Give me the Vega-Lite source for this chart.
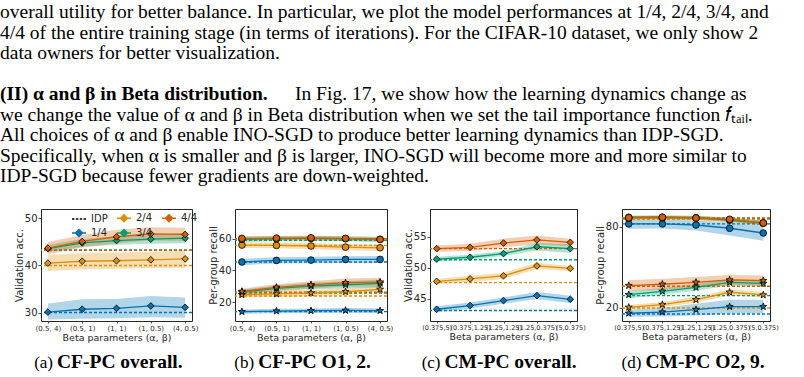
{
  "$schema": "https://vega.github.io/schema/vega-lite/v6.json",
  "padding": 0,
  "spacing": 18,
  "config": {
    "font": "DejaVu Sans",
    "view": {"stroke": "#262626", "strokeWidth": 1},
    "axis": {
      "grid": false, "domain": false, "tickColor": "#262626", "tickSize": 3, "tickWidth": 0.8,
      "labelColor": "#262626", "labelFont": "DejaVu Sans", "labelFontSize": 10, "labelPadding": 1,
      "titleFont": "DejaVu Sans", "titleFontSize": 10, "titleFontWeight": "normal", "titleColor": "#262626", "titlePadding": 0
    },
    "axisX": {"labelFontSize": 7, "labelAngle": 0, "labelOverlap": false, "labelBound": false, "tickSize": 2, "labelPadding": 1, "titlePadding": 1, "titleFontSize": 9.5},
    "legend": {
      "orient": "none", "title": null, "symbolSize": 196, "symbolStrokeWidth": 1.5,
      "labelFont": "DejaVu Sans", "labelFontSize": 10, "labelColor": "#262626", "labelOffset": 4,
      "rowPadding": 0, "padding": 0
    }
  },
  "datasets": {
    "cfpc_overall": [
      {"beta": "(0.5, 4)", "stage": "1/4", "v": 30.1, "lo": 28.5, "hi": 31.9},
      {"beta": "(0.5, 1)", "stage": "1/4", "v": 30.7, "lo": 28.7, "hi": 32.8},
      {"beta": "(1, 1)", "stage": "1/4", "v": 30.9, "lo": 28.8, "hi": 32.9},
      {"beta": "(1, 0.5)", "stage": "1/4", "v": 31.4, "lo": 29.0, "hi": 33.5},
      {"beta": "(4, 0.5)", "stage": "1/4", "v": 31.1, "lo": 28.9, "hi": 33.2},
      {"beta": "(0.5, 4)", "stage": "2/4", "v": 40.5, "lo": 38.8, "hi": 42.2},
      {"beta": "(0.5, 1)", "stage": "2/4", "v": 40.9, "lo": 39.2, "hi": 42.6},
      {"beta": "(1, 1)", "stage": "2/4", "v": 41.0, "lo": 39.3, "hi": 42.7},
      {"beta": "(1, 0.5)", "stage": "2/4", "v": 41.2, "lo": 39.4, "hi": 42.9},
      {"beta": "(4, 0.5)", "stage": "2/4", "v": 41.4, "lo": 39.5, "hi": 43.2},
      {"beta": "(0.5, 4)", "stage": "3/4", "v": 43.6, "lo": 42.8, "hi": 44.4},
      {"beta": "(0.5, 1)", "stage": "3/4", "v": 44.8, "lo": 44.0, "hi": 45.6},
      {"beta": "(1, 1)", "stage": "3/4", "v": 45.3, "lo": 44.4, "hi": 46.2},
      {"beta": "(1, 0.5)", "stage": "3/4", "v": 45.6, "lo": 44.6, "hi": 46.6},
      {"beta": "(4, 0.5)", "stage": "3/4", "v": 45.8, "lo": 44.7, "hi": 46.9},
      {"beta": "(0.5, 4)", "stage": "4/4", "v": 43.7, "lo": 42.4, "hi": 45.0},
      {"beta": "(0.5, 1)", "stage": "4/4", "v": 45.1, "lo": 43.8, "hi": 46.5},
      {"beta": "(1, 1)", "stage": "4/4", "v": 46.1, "lo": 44.7, "hi": 47.6},
      {"beta": "(1, 0.5)", "stage": "4/4", "v": 46.7, "lo": 45.3, "hi": 48.1},
      {"beta": "(4, 0.5)", "stage": "4/4", "v": 46.6, "lo": 45.2, "hi": 48.0}
    ],
    "cfpc_overall_idp": [
      {"stage": "1/4", "idp": 30.0}, {"stage": "2/4", "idp": 40.0},
      {"stage": "3/4", "idp": 43.3}, {"stage": "4/4", "idp": 43.2}
    ],
    "cfpc_owner1": [
      {"beta": "(0.5, 4)", "stage": "1/4", "v": 13.9, "lo": 12.6, "hi": 15.2},
      {"beta": "(0.5, 1)", "stage": "1/4", "v": 14.3, "lo": 12.9, "hi": 15.7},
      {"beta": "(1, 1)", "stage": "1/4", "v": 14.5, "lo": 13.1, "hi": 15.9},
      {"beta": "(1, 0.5)", "stage": "1/4", "v": 14.7, "lo": 13.2, "hi": 16.2},
      {"beta": "(4, 0.5)", "stage": "1/4", "v": 14.5, "lo": 13.0, "hi": 16.0},
      {"beta": "(0.5, 4)", "stage": "2/4", "v": 24.6, "lo": 22.8, "hi": 26.4},
      {"beta": "(0.5, 1)", "stage": "2/4", "v": 25.1, "lo": 23.2, "hi": 27.0},
      {"beta": "(1, 1)", "stage": "2/4", "v": 25.7, "lo": 23.7, "hi": 27.7},
      {"beta": "(1, 0.5)", "stage": "2/4", "v": 26.5, "lo": 24.4, "hi": 28.6},
      {"beta": "(4, 0.5)", "stage": "2/4", "v": 28.0, "lo": 25.8, "hi": 30.2},
      {"beta": "(0.5, 4)", "stage": "3/4", "v": 26.3, "lo": 24.8, "hi": 27.8},
      {"beta": "(0.5, 1)", "stage": "3/4", "v": 28.6, "lo": 26.8, "hi": 30.4},
      {"beta": "(1, 1)", "stage": "3/4", "v": 30.1, "lo": 28.0, "hi": 32.2},
      {"beta": "(1, 0.5)", "stage": "3/4", "v": 30.9, "lo": 28.6, "hi": 33.2},
      {"beta": "(4, 0.5)", "stage": "3/4", "v": 31.8, "lo": 29.3, "hi": 34.3},
      {"beta": "(0.5, 4)", "stage": "4/4", "v": 26.7, "lo": 25.0, "hi": 28.4},
      {"beta": "(0.5, 1)", "stage": "4/4", "v": 29.3, "lo": 27.3, "hi": 31.3},
      {"beta": "(1, 1)", "stage": "4/4", "v": 30.9, "lo": 28.6, "hi": 33.2},
      {"beta": "(1, 0.5)", "stage": "4/4", "v": 32.2, "lo": 29.6, "hi": 34.8},
      {"beta": "(4, 0.5)", "stage": "4/4", "v": 32.6, "lo": 29.8, "hi": 35.4}
    ],
    "cfpc_owner2": [
      {"beta": "(0.5, 4)", "stage": "1/4", "v": 45.3, "lo": 43.3, "hi": 47.3},
      {"beta": "(0.5, 1)", "stage": "1/4", "v": 46.3, "lo": 44.3, "hi": 48.3},
      {"beta": "(1, 1)", "stage": "1/4", "v": 46.5, "lo": 44.5, "hi": 48.6},
      {"beta": "(1, 0.5)", "stage": "1/4", "v": 46.9, "lo": 44.8, "hi": 49.0},
      {"beta": "(4, 0.5)", "stage": "1/4", "v": 46.9, "lo": 44.7, "hi": 49.1},
      {"beta": "(0.5, 4)", "stage": "2/4", "v": 56.0, "lo": 54.2, "hi": 57.8},
      {"beta": "(0.5, 1)", "stage": "2/4", "v": 55.8, "lo": 54.0, "hi": 57.6},
      {"beta": "(1, 1)", "stage": "2/4", "v": 55.4, "lo": 53.5, "hi": 57.3},
      {"beta": "(1, 0.5)", "stage": "2/4", "v": 54.7, "lo": 52.8, "hi": 56.6},
      {"beta": "(4, 0.5)", "stage": "2/4", "v": 54.3, "lo": 52.3, "hi": 56.3},
      {"beta": "(0.5, 4)", "stage": "3/4", "v": 59.6, "lo": 58.0, "hi": 61.2},
      {"beta": "(0.5, 1)", "stage": "3/4", "v": 60.0, "lo": 58.4, "hi": 61.6},
      {"beta": "(1, 1)", "stage": "3/4", "v": 60.2, "lo": 58.6, "hi": 61.8},
      {"beta": "(1, 0.5)", "stage": "3/4", "v": 60.0, "lo": 58.4, "hi": 61.6},
      {"beta": "(4, 0.5)", "stage": "3/4", "v": 59.6, "lo": 58.0, "hi": 61.2},
      {"beta": "(0.5, 4)", "stage": "4/4", "v": 60.2, "lo": 58.8, "hi": 61.6},
      {"beta": "(0.5, 1)", "stage": "4/4", "v": 60.4, "lo": 59.0, "hi": 61.8},
      {"beta": "(1, 1)", "stage": "4/4", "v": 60.6, "lo": 59.2, "hi": 62.0},
      {"beta": "(1, 0.5)", "stage": "4/4", "v": 60.2, "lo": 58.8, "hi": 61.6},
      {"beta": "(4, 0.5)", "stage": "4/4", "v": 59.6, "lo": 58.2, "hi": 61.0}
    ],
    "cfpc_owner_idp": [
      {"stage": "1/4", "idp": 13.9}, {"stage": "2/4", "idp": 23.8},
      {"stage": "3/4", "idp": 25.6}, {"stage": "4/4", "idp": 26.2},
      {"stage": "1/4", "idp": 45.3}, {"stage": "2/4", "idp": 55.8},
      {"stage": "3/4", "idp": 59.0}, {"stage": "4/4", "idp": 60.0}
    ],
    "cmpc_overall": [
      {"beta": "(0.375,5)", "stage": "1/4", "v": 43.3, "lo": 42.8, "hi": 43.8},
      {"beta": "(0.375,1.25)", "stage": "1/4", "v": 43.9, "lo": 43.4, "hi": 44.4},
      {"beta": "(1.25,1.25)", "stage": "1/4", "v": 44.7, "lo": 44.2, "hi": 45.2},
      {"beta": "(1.25,0.375)", "stage": "1/4", "v": 45.5, "lo": 44.9, "hi": 46.1},
      {"beta": "(5,0.375)", "stage": "1/4", "v": 44.9, "lo": 44.3, "hi": 45.5},
      {"beta": "(0.375,5)", "stage": "2/4", "v": 47.8, "lo": 47.4, "hi": 48.2},
      {"beta": "(0.375,1.25)", "stage": "2/4", "v": 48.2, "lo": 47.7, "hi": 48.7},
      {"beta": "(1.25,1.25)", "stage": "2/4", "v": 48.7, "lo": 48.2, "hi": 49.2},
      {"beta": "(1.25,0.375)", "stage": "2/4", "v": 50.3, "lo": 49.8, "hi": 50.8},
      {"beta": "(5,0.375)", "stage": "2/4", "v": 49.9, "lo": 49.5, "hi": 50.3},
      {"beta": "(0.375,5)", "stage": "3/4", "v": 51.4, "lo": 51.0, "hi": 51.8},
      {"beta": "(0.375,1.25)", "stage": "3/4", "v": 51.7, "lo": 51.3, "hi": 52.1},
      {"beta": "(1.25,1.25)", "stage": "3/4", "v": 52.3, "lo": 51.9, "hi": 52.7},
      {"beta": "(1.25,0.375)", "stage": "3/4", "v": 53.4, "lo": 52.8, "hi": 54.0},
      {"beta": "(5,0.375)", "stage": "3/4", "v": 53.1, "lo": 52.4, "hi": 53.8},
      {"beta": "(0.375,5)", "stage": "4/4", "v": 53.1, "lo": 52.6, "hi": 53.6},
      {"beta": "(0.375,1.25)", "stage": "4/4", "v": 53.3, "lo": 52.7, "hi": 53.9},
      {"beta": "(1.25,1.25)", "stage": "4/4", "v": 54.0, "lo": 53.3, "hi": 54.7},
      {"beta": "(1.25,0.375)", "stage": "4/4", "v": 54.5, "lo": 53.8, "hi": 55.2},
      {"beta": "(5,0.375)", "stage": "4/4", "v": 54.1, "lo": 53.5, "hi": 54.7}
    ],
    "cmpc_overall_idp": [
      {"stage": "1/4", "idp": 43.1}, {"stage": "2/4", "idp": 47.6},
      {"stage": "3/4", "idp": 51.3}, {"stage": "4/4", "idp": 53.1}
    ],
    "cmpc_owner2": [
      {"beta": "(0.375,5)", "stage": "1/4", "v": 16.1, "lo": 13.5, "hi": 18.7},
      {"beta": "(0.375,1.25)", "stage": "1/4", "v": 17.0, "lo": 13.8, "hi": 20.2},
      {"beta": "(1.25,1.25)", "stage": "1/4", "v": 18.8, "lo": 14.5, "hi": 23.1},
      {"beta": "(1.25,0.375)", "stage": "1/4", "v": 21.0, "lo": 16.0, "hi": 26.0},
      {"beta": "(5,0.375)", "stage": "1/4", "v": 21.0, "lo": 16.0, "hi": 26.0},
      {"beta": "(0.375,5)", "stage": "2/4", "v": 20.5, "lo": 18.8, "hi": 22.2},
      {"beta": "(0.375,1.25)", "stage": "2/4", "v": 22.5, "lo": 20.6, "hi": 24.4},
      {"beta": "(1.25,1.25)", "stage": "2/4", "v": 26.1, "lo": 24.0, "hi": 28.2},
      {"beta": "(1.25,0.375)", "stage": "2/4", "v": 31.6, "lo": 29.4, "hi": 33.8},
      {"beta": "(5,0.375)", "stage": "2/4", "v": 29.6, "lo": 27.5, "hi": 31.7},
      {"beta": "(0.375,5)", "stage": "3/4", "v": 29.8, "lo": 27.0, "hi": 32.6},
      {"beta": "(0.375,1.25)", "stage": "3/4", "v": 32.3, "lo": 29.8, "hi": 34.8},
      {"beta": "(1.25,1.25)", "stage": "3/4", "v": 35.2, "lo": 32.8, "hi": 37.6},
      {"beta": "(1.25,0.375)", "stage": "3/4", "v": 38.9, "lo": 36.5, "hi": 41.3},
      {"beta": "(5,0.375)", "stage": "3/4", "v": 38.2, "lo": 35.8, "hi": 40.6},
      {"beta": "(0.375,5)", "stage": "4/4", "v": 36.5, "lo": 32.5, "hi": 40.5},
      {"beta": "(0.375,1.25)", "stage": "4/4", "v": 37.5, "lo": 33.5, "hi": 41.5},
      {"beta": "(1.25,1.25)", "stage": "4/4", "v": 38.9, "lo": 35.0, "hi": 42.8},
      {"beta": "(1.25,0.375)", "stage": "4/4", "v": 40.7, "lo": 37.0, "hi": 44.4},
      {"beta": "(5,0.375)", "stage": "4/4", "v": 40.2, "lo": 36.5, "hi": 43.9}
    ],
    "cmpc_owner9": [
      {"beta": "(0.375,5)", "stage": "1/4", "v": 82.0, "lo": 78.5, "hi": 85.0},
      {"beta": "(0.375,1.25)", "stage": "1/4", "v": 82.0, "lo": 78.6, "hi": 85.0},
      {"beta": "(1.25,1.25)", "stage": "1/4", "v": 81.2, "lo": 77.2, "hi": 84.5},
      {"beta": "(1.25,0.375)", "stage": "1/4", "v": 78.8, "lo": 73.5, "hi": 83.0},
      {"beta": "(5,0.375)", "stage": "1/4", "v": 75.3, "lo": 69.5, "hi": 80.5},
      {"beta": "(0.375,5)", "stage": "2/4", "v": 86.1, "lo": 84.6, "hi": 87.6},
      {"beta": "(0.375,1.25)", "stage": "2/4", "v": 86.4, "lo": 84.9, "hi": 87.9},
      {"beta": "(1.25,1.25)", "stage": "2/4", "v": 86.1, "lo": 84.6, "hi": 87.6},
      {"beta": "(1.25,0.375)", "stage": "2/4", "v": 84.9, "lo": 83.2, "hi": 86.6},
      {"beta": "(5,0.375)", "stage": "2/4", "v": 82.5, "lo": 80.5, "hi": 84.5},
      {"beta": "(0.375,5)", "stage": "3/4", "v": 86.9, "lo": 85.6, "hi": 88.2},
      {"beta": "(0.375,1.25)", "stage": "3/4", "v": 86.9, "lo": 85.6, "hi": 88.2},
      {"beta": "(1.25,1.25)", "stage": "3/4", "v": 86.6, "lo": 85.2, "hi": 88.0},
      {"beta": "(1.25,0.375)", "stage": "3/4", "v": 84.9, "lo": 83.4, "hi": 86.4},
      {"beta": "(5,0.375)", "stage": "3/4", "v": 82.7, "lo": 81.0, "hi": 84.4},
      {"beta": "(0.375,5)", "stage": "4/4", "v": 86.6, "lo": 85.3, "hi": 87.9},
      {"beta": "(0.375,1.25)", "stage": "4/4", "v": 86.9, "lo": 85.6, "hi": 88.2},
      {"beta": "(1.25,1.25)", "stage": "4/4", "v": 86.4, "lo": 85.0, "hi": 87.8},
      {"beta": "(1.25,0.375)", "stage": "4/4", "v": 85.4, "lo": 83.9, "hi": 86.9},
      {"beta": "(5,0.375)", "stage": "4/4", "v": 82.7, "lo": 81.0, "hi": 84.4}
    ],
    "cmpc_owner_idp": [
      {"stage": "1/4", "idp": 15.6}, {"stage": "2/4", "idp": 20.0},
      {"stage": "3/4", "idp": 29.1}, {"stage": "4/4", "idp": 36.0},
      {"stage": "1/4", "idp": 82.0}, {"stage": "2/4", "idp": 85.5},
      {"stage": "3/4", "idp": 86.0}, {"stage": "4/4", "idp": 86.4}
    ],
    "paragraph": [
      {"line": 0, "text": "overall utility for better balance. In particular, we plot the model performances at 1/4, 2/4, 3/4, and"},
      {"line": 1, "text": "4/4 of the entire training stage (in terms of iterations). For the CIFAR-10 dataset, we only show 2"},
      {"line": 2, "text": "data owners for better visualization."},
      {"line": 5, "text": "we change the value of α and β in Beta distribution when we set the tail importance function 𝑓ₜₐᵢₗ."},
      {"line": 6, "text": "All choices of α and β enable INO-SGD to produce better learning dynamics than IDP-SGD."},
      {"line": 7, "text": "Specifically, when α is smaller and β is larger, INO-SGD will become more and more similar to"},
      {"line": 8, "text": "IDP-SGD because fewer gradients are down-weighted."}
    ]
  },
  "vconcat": [
    {
      "width": 804,
      "height": 190,
      "view": {"stroke": null},
      "encoding": {
        "x": {"datum": 0, "type": "quantitative", "scale": {"domain": [0, 1]}, "axis": null},
        "y": {"field": "line", "type": "quantitative", "scale": {"domain": [-0.878, 8.39], "reverse": true, "nice": false, "zero": false}, "axis": null},
        "text": {"field": "text", "type": "nominal"}
      },
      "layer": [
        {
          "data": {"name": "paragraph"},
          "mark": {"type": "text", "align": "left", "baseline": "alphabetic", "font": "Liberation Serif", "fontSize": 19.5, "color": "black", "dx": -41}
        },
        {
          "data": {"values": [{"line": 4, "text": "(II) α and β in Beta distribution."}]},
          "mark": {"type": "text", "align": "left", "baseline": "alphabetic", "font": "Liberation Serif", "fontSize": 19.5, "fontWeight": "bold", "color": "black", "dx": -41}
        },
        {
          "data": {"values": [{"line": 4, "text": "In Fig. 17, we show how the learning dynamics change as"}]},
          "mark": {"type": "text", "align": "left", "baseline": "alphabetic", "font": "Liberation Serif", "fontSize": 19.5, "color": "black", "dx": 254}
        }
      ]
    },
    {
      "spacing": 8,
      "hconcat": [
        {
          "width": 151,
          "height": 112,
          "layer": [
            {
              "data": {"name": "cfpc_overall"},
              "mark": {"type": "area", "opacity": 0.3},
              "encoding": {
                "x": {"field": "beta", "type": "ordinal", "title": "Beta parameters (α, β)", "scale": {"type": "point", "padding": 0.2, "domain": ["(0.5, 4)", "(0.5, 1)", "(1, 1)", "(1, 0.5)", "(4, 0.5)"]}},
                "y": {"field": "lo", "type": "quantitative", "title": "Validation acc.", "scale": {"domain": [28.2, 52], "nice": false, "zero": false}, "axis": {"values": [30, 35, 40, 45, 50]}},
                "y2": {"field": "hi"},
                "color": {"field": "stage", "type": "nominal", "scale": {"domain": ["1/4", "2/4", "3/4", "4/4"], "range": ["#0173b2", "#de8f05", "#029e73", "#d55e00"]}, "legend": null}
              }
            },
            {
              "data": {"name": "cfpc_overall_idp"},
              "mark": {"type": "rule", "strokeDash": [3, 2], "strokeWidth": 1.4},
              "encoding": {
                "y": {"field": "idp", "type": "quantitative", "title": "Validation acc.", "scale": {"domain": [28.2, 52], "nice": false, "zero": false}},
                "color": {"field": "stage", "type": "nominal", "scale": {"domain": ["1/4", "2/4", "3/4", "4/4"], "range": ["#0173b2", "#de8f05", "#029e73", "#d55e00"]}, "legend": null}
              }
            },
            {
              "data": {"name": "cfpc_overall"},
              "mark": {"type": "line", "strokeWidth": 1.3},
              "encoding": {
                "x": {"field": "beta", "type": "ordinal", "title": "Beta parameters (α, β)", "scale": {"type": "point", "padding": 0.2, "domain": ["(0.5, 4)", "(0.5, 1)", "(1, 1)", "(1, 0.5)", "(4, 0.5)"]}},
                "y": {"field": "v", "type": "quantitative", "title": "Validation acc.", "scale": {"domain": [28.2, 52], "nice": false, "zero": false}},
                "color": {"field": "stage", "type": "nominal", "scale": {"domain": ["1/4", "2/4", "3/4", "4/4"], "range": ["#0173b2", "#de8f05", "#029e73", "#d55e00"]}, "legend": null}
              }
            },
            {
              "data": {"name": "cfpc_overall"},
              "mark": {"type": "point", "filled": true, "shape": "diamond", "size": 45, "stroke": "black", "strokeWidth": 0.8, "opacity": 1},
              "encoding": {
                "x": {"field": "beta", "type": "ordinal", "title": "Beta parameters (α, β)", "scale": {"type": "point", "padding": 0.2, "domain": ["(0.5, 4)", "(0.5, 1)", "(1, 1)", "(1, 0.5)", "(4, 0.5)"]}},
                "y": {"field": "v", "type": "quantitative", "title": "Validation acc.", "scale": {"domain": [28.2, 52], "nice": false, "zero": false}},
                "color": {"field": "stage", "type": "nominal", "scale": {"domain": ["1/4", "2/4", "3/4", "4/4"], "range": ["#0173b2", "#de8f05", "#029e73", "#d55e00"]}, "legend": null}
              }
            },
            {
              "data": {"values": [{"key": "IDP"}]},
              "transform": [{"filter": "false"}],
              "mark": {"type": "point", "filled": true, "opacity": 1, "strokeWidth": 1.5},
              "encoding": {
                "fill": {"field": "key", "type": "nominal", "scale": {"domain": ["IDP", "1/4", "2/4", "3/4", "4/4"], "range": ["black", "#0173b2", "#de8f05", "#029e73", "#d55e00"]}, "legend": {"legendX": 30, "legendY": 210, "columns": 3, "columnPadding": 6}},
                "stroke": {"field": "key", "type": "nominal", "scale": {"domain": ["IDP", "1/4", "2/4", "3/4", "4/4"], "range": ["black", "#0173b2", "#de8f05", "#029e73", "#d55e00"]}, "legend": {"legendX": 30, "legendY": 210, "columns": 3, "columnPadding": 6}},
                "shape": {"field": "key", "type": "nominal", "scale": {"domain": ["IDP", "1/4", "2/4", "3/4", "4/4"], "range": ["M-1,0H-0.65M-0.45,0H-0.1M0.1,0H0.45M0.65,0H1", "M-1,0H-0.5M0.5,0H1M0,-0.5L0.5,0L0,0.5L-0.5,0Z", "M-1,0H-0.5M0.5,0H1M0,-0.5L0.5,0L0,0.5L-0.5,0Z", "M-1,0H-0.5M0.5,0H1M0,-0.5L0.5,0L0,0.5L-0.5,0Z", "M-1,0H-0.5M0.5,0H1M0,-0.5L0.5,0L0,0.5L-0.5,0Z"]}, "legend": {"legendX": 30, "legendY": 210, "columns": 3, "columnPadding": 6}}
              }
            },
            {
              "data": {"values": [{"tag": "(a)", "caption": "CF-PC overall."}]},
              "layer": [
                {"mark": {"type": "text", "align": "right", "baseline": "alphabetic", "font": "Liberation Serif", "fontSize": 17, "color": "black", "dx": -63.5, "dy": 103}, "encoding": {"text": {"field": "tag"}}},
                {"mark": {"type": "text", "align": "left", "baseline": "alphabetic", "font": "Liberation Serif", "fontSize": 19.5, "fontWeight": "bold", "color": "black", "dx": -59.5, "dy": 103}, "encoding": {"text": {"field": "caption"}}}
              ]
            }
          ]
        },
        {
          "width": 152,
          "height": 112,
          "layer": [
            {
              "data": {"name": "cfpc_owner1"},
              "mark": {"type": "area", "opacity": 0.3},
              "encoding": {
                "x": {"field": "beta", "type": "ordinal", "title": "Beta parameters (α, β)", "scale": {"type": "point", "padding": 0.2, "domain": ["(0.5, 4)", "(0.5, 1)", "(1, 1)", "(1, 0.5)", "(4, 0.5)"]}},
                "y": {"field": "lo", "type": "quantitative", "title": "Per-group recall", "scale": {"domain": [8, 78.8], "nice": false, "zero": false}, "axis": {"values": [20, 40, 60]}},
                "y2": {"field": "hi"},
                "color": {"field": "stage", "type": "nominal", "scale": {"domain": ["1/4", "2/4", "3/4", "4/4"], "range": ["#0173b2", "#de8f05", "#029e73", "#d55e00"]}, "legend": null}
              }
            },
            {
              "data": {"name": "cfpc_owner2"},
              "mark": {"type": "area", "opacity": 0.3},
              "encoding": {
                "x": {"field": "beta", "type": "ordinal", "title": "Beta parameters (α, β)", "scale": {"type": "point", "padding": 0.2, "domain": ["(0.5, 4)", "(0.5, 1)", "(1, 1)", "(1, 0.5)", "(4, 0.5)"]}},
                "y": {"field": "lo", "type": "quantitative", "title": "Per-group recall", "scale": {"domain": [8, 78.8], "nice": false, "zero": false}},
                "y2": {"field": "hi"},
                "color": {"field": "stage", "type": "nominal", "scale": {"domain": ["1/4", "2/4", "3/4", "4/4"], "range": ["#0173b2", "#de8f05", "#029e73", "#d55e00"]}, "legend": null}
              }
            },
            {
              "data": {"name": "cfpc_owner_idp"},
              "mark": {"type": "rule", "strokeDash": [3, 2], "strokeWidth": 1.4},
              "encoding": {
                "y": {"field": "idp", "type": "quantitative", "title": "Per-group recall", "scale": {"domain": [8, 78.8], "nice": false, "zero": false}},
                "color": {"field": "stage", "type": "nominal", "scale": {"domain": ["1/4", "2/4", "3/4", "4/4"], "range": ["#0173b2", "#de8f05", "#029e73", "#d55e00"]}, "legend": null}
              }
            },
            {
              "data": {"name": "cfpc_owner1"},
              "mark": {"type": "line", "strokeWidth": 1.3},
              "encoding": {
                "x": {"field": "beta", "type": "ordinal", "title": "Beta parameters (α, β)", "scale": {"type": "point", "padding": 0.2, "domain": ["(0.5, 4)", "(0.5, 1)", "(1, 1)", "(1, 0.5)", "(4, 0.5)"]}},
                "y": {"field": "v", "type": "quantitative", "title": "Per-group recall", "scale": {"domain": [8, 78.8], "nice": false, "zero": false}},
                "color": {"field": "stage", "type": "nominal", "scale": {"domain": ["1/4", "2/4", "3/4", "4/4"], "range": ["#0173b2", "#de8f05", "#029e73", "#d55e00"]}, "legend": null}
              }
            },
            {
              "data": {"name": "cfpc_owner2"},
              "mark": {"type": "line", "strokeWidth": 1.3},
              "encoding": {
                "x": {"field": "beta", "type": "ordinal", "title": "Beta parameters (α, β)", "scale": {"type": "point", "padding": 0.2, "domain": ["(0.5, 4)", "(0.5, 1)", "(1, 1)", "(1, 0.5)", "(4, 0.5)"]}},
                "y": {"field": "v", "type": "quantitative", "title": "Per-group recall", "scale": {"domain": [8, 78.8], "nice": false, "zero": false}},
                "color": {"field": "stage", "type": "nominal", "scale": {"domain": ["1/4", "2/4", "3/4", "4/4"], "range": ["#0173b2", "#de8f05", "#029e73", "#d55e00"]}, "legend": null}
              }
            },
            {
              "data": {"name": "cfpc_owner1"},
              "mark": {"type": "point", "filled": true, "shape": "M0,-1L0.235,-0.324L0.951,-0.309L0.38,0.124L0.588,0.809L0,0.4L-0.588,0.809L-0.38,0.124L-0.951,-0.309L-0.235,-0.324Z", "size": 55, "stroke": "black", "strokeWidth": 0.8, "opacity": 1},
              "encoding": {
                "x": {"field": "beta", "type": "ordinal", "title": "Beta parameters (α, β)", "scale": {"type": "point", "padding": 0.2, "domain": ["(0.5, 4)", "(0.5, 1)", "(1, 1)", "(1, 0.5)", "(4, 0.5)"]}},
                "y": {"field": "v", "type": "quantitative", "title": "Per-group recall", "scale": {"domain": [8, 78.8], "nice": false, "zero": false}},
                "color": {"field": "stage", "type": "nominal", "scale": {"domain": ["1/4", "2/4", "3/4", "4/4"], "range": ["#0173b2", "#de8f05", "#029e73", "#d55e00"]}, "legend": null}
              }
            },
            {
              "data": {"name": "cfpc_owner2"},
              "mark": {"type": "point", "filled": true, "shape": "circle", "size": 45, "stroke": "black", "strokeWidth": 0.8, "opacity": 1},
              "encoding": {
                "x": {"field": "beta", "type": "ordinal", "title": "Beta parameters (α, β)", "scale": {"type": "point", "padding": 0.2, "domain": ["(0.5, 4)", "(0.5, 1)", "(1, 1)", "(1, 0.5)", "(4, 0.5)"]}},
                "y": {"field": "v", "type": "quantitative", "title": "Per-group recall", "scale": {"domain": [8, 78.8], "nice": false, "zero": false}},
                "color": {"field": "stage", "type": "nominal", "scale": {"domain": ["1/4", "2/4", "3/4", "4/4"], "range": ["#0173b2", "#de8f05", "#029e73", "#d55e00"]}, "legend": null}
              }
            },
            {
              "data": {"values": [{"tag": "(b)", "caption": "CF-PC O1, 2."}]},
              "layer": [
                {"mark": {"type": "text", "align": "right", "baseline": "alphabetic", "font": "Liberation Serif", "fontSize": 17, "color": "black", "dx": -56.8, "dy": 103}, "encoding": {"text": {"field": "tag"}}},
                {"mark": {"type": "text", "align": "left", "baseline": "alphabetic", "font": "Liberation Serif", "fontSize": 19.5, "fontWeight": "bold", "color": "black", "dx": -52.8, "dy": 103}, "encoding": {"text": {"field": "caption"}}}
              ]
            }
          ]
        },
        {
          "width": 147,
          "height": 112,
          "layer": [
            {
              "data": {"name": "cmpc_overall"},
              "mark": {"type": "area", "opacity": 0.3},
              "encoding": {
                "x": {"field": "beta", "type": "ordinal", "title": "Beta parameters (α, β)", "scale": {"type": "point", "padding": 0.2, "domain": ["(0.375,5)", "(0.375,1.25)", "(1.25,1.25)", "(1.25,0.375)", "(5,0.375)"]}, "axis": {"labelFontSize": 6.5}},
                "y": {"field": "lo", "type": "quantitative", "title": "Validation acc.", "scale": {"domain": [41.4, 59.5], "nice": false, "zero": false}, "axis": {"values": [45, 50, 55]}},
                "y2": {"field": "hi"},
                "color": {"field": "stage", "type": "nominal", "scale": {"domain": ["1/4", "2/4", "3/4", "4/4"], "range": ["#0173b2", "#de8f05", "#029e73", "#d55e00"]}, "legend": null}
              }
            },
            {
              "data": {"name": "cmpc_overall_idp"},
              "mark": {"type": "rule", "strokeDash": [3, 2], "strokeWidth": 1.4},
              "encoding": {
                "y": {"field": "idp", "type": "quantitative", "title": "Validation acc.", "scale": {"domain": [41.4, 59.5], "nice": false, "zero": false}},
                "color": {"field": "stage", "type": "nominal", "scale": {"domain": ["1/4", "2/4", "3/4", "4/4"], "range": ["#0173b2", "#de8f05", "#029e73", "#d55e00"]}, "legend": null}
              }
            },
            {
              "data": {"name": "cmpc_overall"},
              "mark": {"type": "line", "strokeWidth": 1.3},
              "encoding": {
                "x": {"field": "beta", "type": "ordinal", "title": "Beta parameters (α, β)", "scale": {"type": "point", "padding": 0.2, "domain": ["(0.375,5)", "(0.375,1.25)", "(1.25,1.25)", "(1.25,0.375)", "(5,0.375)"]}},
                "y": {"field": "v", "type": "quantitative", "title": "Validation acc.", "scale": {"domain": [41.4, 59.5], "nice": false, "zero": false}},
                "color": {"field": "stage", "type": "nominal", "scale": {"domain": ["1/4", "2/4", "3/4", "4/4"], "range": ["#0173b2", "#de8f05", "#029e73", "#d55e00"]}, "legend": null}
              }
            },
            {
              "data": {"name": "cmpc_overall"},
              "mark": {"type": "point", "filled": true, "shape": "diamond", "size": 45, "stroke": "black", "strokeWidth": 0.8, "opacity": 1},
              "encoding": {
                "x": {"field": "beta", "type": "ordinal", "title": "Beta parameters (α, β)", "scale": {"type": "point", "padding": 0.2, "domain": ["(0.375,5)", "(0.375,1.25)", "(1.25,1.25)", "(1.25,0.375)", "(5,0.375)"]}},
                "y": {"field": "v", "type": "quantitative", "title": "Validation acc.", "scale": {"domain": [41.4, 59.5], "nice": false, "zero": false}},
                "color": {"field": "stage", "type": "nominal", "scale": {"domain": ["1/4", "2/4", "3/4", "4/4"], "range": ["#0173b2", "#de8f05", "#029e73", "#d55e00"]}, "legend": null}
              }
            },
            {
              "data": {"values": [{"tag": "(c)", "caption": "CM-PC overall."}]},
              "layer": [
                {"mark": {"type": "text", "align": "right", "baseline": "alphabetic", "font": "Liberation Serif", "fontSize": 17, "color": "black", "dx": -63, "dy": 103}, "encoding": {"text": {"field": "tag"}}},
                {"mark": {"type": "text", "align": "left", "baseline": "alphabetic", "font": "Liberation Serif", "fontSize": 19.5, "fontWeight": "bold", "color": "black", "dx": -59, "dy": 103}, "encoding": {"text": {"field": "caption"}}}
              ]
            }
          ]
        },
        {
          "width": 148,
          "height": 112,
          "layer": [
            {
              "data": {"name": "cmpc_owner2"},
              "mark": {"type": "area", "opacity": 0.3},
              "encoding": {
                "x": {"field": "beta", "type": "ordinal", "title": "Beta parameters (α, β)", "scale": {"type": "point", "padding": 0.2, "domain": ["(0.375,5)", "(0.375,1.25)", "(1.25,1.25)", "(1.25,0.375)", "(5,0.375)"]}, "axis": {"labelFontSize": 6.5}},
                "y": {"field": "lo", "type": "quantitative", "title": "Per-group recall", "scale": {"domain": [10.4, 93], "nice": false, "zero": false}, "axis": {"values": [20, 40, 60, 80]}},
                "y2": {"field": "hi"},
                "color": {"field": "stage", "type": "nominal", "scale": {"domain": ["1/4", "2/4", "3/4", "4/4"], "range": ["#0173b2", "#de8f05", "#029e73", "#d55e00"]}, "legend": null}
              }
            },
            {
              "data": {"name": "cmpc_owner9"},
              "mark": {"type": "area", "opacity": 0.3},
              "encoding": {
                "x": {"field": "beta", "type": "ordinal", "title": "Beta parameters (α, β)", "scale": {"type": "point", "padding": 0.2, "domain": ["(0.375,5)", "(0.375,1.25)", "(1.25,1.25)", "(1.25,0.375)", "(5,0.375)"]}},
                "y": {"field": "lo", "type": "quantitative", "title": "Per-group recall", "scale": {"domain": [10.4, 93], "nice": false, "zero": false}},
                "y2": {"field": "hi"},
                "color": {"field": "stage", "type": "nominal", "scale": {"domain": ["1/4", "2/4", "3/4", "4/4"], "range": ["#0173b2", "#de8f05", "#029e73", "#d55e00"]}, "legend": null}
              }
            },
            {
              "data": {"name": "cmpc_owner_idp"},
              "mark": {"type": "rule", "strokeDash": [3, 2], "strokeWidth": 1.4},
              "encoding": {
                "y": {"field": "idp", "type": "quantitative", "title": "Per-group recall", "scale": {"domain": [10.4, 93], "nice": false, "zero": false}},
                "color": {"field": "stage", "type": "nominal", "scale": {"domain": ["1/4", "2/4", "3/4", "4/4"], "range": ["#0173b2", "#de8f05", "#029e73", "#d55e00"]}, "legend": null}
              }
            },
            {
              "data": {"name": "cmpc_owner2"},
              "mark": {"type": "line", "strokeWidth": 1.3},
              "encoding": {
                "x": {"field": "beta", "type": "ordinal", "title": "Beta parameters (α, β)", "scale": {"type": "point", "padding": 0.2, "domain": ["(0.375,5)", "(0.375,1.25)", "(1.25,1.25)", "(1.25,0.375)", "(5,0.375)"]}},
                "y": {"field": "v", "type": "quantitative", "title": "Per-group recall", "scale": {"domain": [10.4, 93], "nice": false, "zero": false}},
                "color": {"field": "stage", "type": "nominal", "scale": {"domain": ["1/4", "2/4", "3/4", "4/4"], "range": ["#0173b2", "#de8f05", "#029e73", "#d55e00"]}, "legend": null}
              }
            },
            {
              "data": {"name": "cmpc_owner9"},
              "mark": {"type": "line", "strokeWidth": 1.3},
              "encoding": {
                "x": {"field": "beta", "type": "ordinal", "title": "Beta parameters (α, β)", "scale": {"type": "point", "padding": 0.2, "domain": ["(0.375,5)", "(0.375,1.25)", "(1.25,1.25)", "(1.25,0.375)", "(5,0.375)"]}},
                "y": {"field": "v", "type": "quantitative", "title": "Per-group recall", "scale": {"domain": [10.4, 93], "nice": false, "zero": false}},
                "color": {"field": "stage", "type": "nominal", "scale": {"domain": ["1/4", "2/4", "3/4", "4/4"], "range": ["#0173b2", "#de8f05", "#029e73", "#d55e00"]}, "legend": null}
              }
            },
            {
              "data": {"name": "cmpc_owner2"},
              "mark": {"type": "point", "filled": true, "shape": "M0,-1L0.235,-0.324L0.951,-0.309L0.38,0.124L0.588,0.809L0,0.4L-0.588,0.809L-0.38,0.124L-0.951,-0.309L-0.235,-0.324Z", "size": 55, "stroke": "black", "strokeWidth": 0.8, "opacity": 1},
              "encoding": {
                "x": {"field": "beta", "type": "ordinal", "title": "Beta parameters (α, β)", "scale": {"type": "point", "padding": 0.2, "domain": ["(0.375,5)", "(0.375,1.25)", "(1.25,1.25)", "(1.25,0.375)", "(5,0.375)"]}},
                "y": {"field": "v", "type": "quantitative", "title": "Per-group recall", "scale": {"domain": [10.4, 93], "nice": false, "zero": false}},
                "color": {"field": "stage", "type": "nominal", "scale": {"domain": ["1/4", "2/4", "3/4", "4/4"], "range": ["#0173b2", "#de8f05", "#029e73", "#d55e00"]}, "legend": null}
              }
            },
            {
              "data": {"name": "cmpc_owner9"},
              "mark": {"type": "point", "filled": true, "shape": "circle", "size": 45, "stroke": "black", "strokeWidth": 0.8, "opacity": 1},
              "encoding": {
                "x": {"field": "beta", "type": "ordinal", "title": "Beta parameters (α, β)", "scale": {"type": "point", "padding": 0.2, "domain": ["(0.375,5)", "(0.375,1.25)", "(1.25,1.25)", "(1.25,0.375)", "(5,0.375)"]}},
                "y": {"field": "v", "type": "quantitative", "title": "Per-group recall", "scale": {"domain": [10.4, 93], "nice": false, "zero": false}},
                "color": {"field": "stage", "type": "nominal", "scale": {"domain": ["1/4", "2/4", "3/4", "4/4"], "range": ["#0173b2", "#de8f05", "#029e73", "#d55e00"]}, "legend": null}
              }
            },
            {
              "data": {"values": [{"tag": "(d)", "caption": "CM-PC O2, 9."}]},
              "layer": [
                {"mark": {"type": "text", "align": "right", "baseline": "alphabetic", "font": "Liberation Serif", "fontSize": 17, "color": "black", "dx": -54.6, "dy": 103}, "encoding": {"text": {"field": "tag"}}},
                {"mark": {"type": "text", "align": "left", "baseline": "alphabetic", "font": "Liberation Serif", "fontSize": 19.5, "fontWeight": "bold", "color": "black", "dx": -50.6, "dy": 103}, "encoding": {"text": {"field": "caption"}}}
              ]
            }
          ]
        }
      ]
    }
  ]
}
